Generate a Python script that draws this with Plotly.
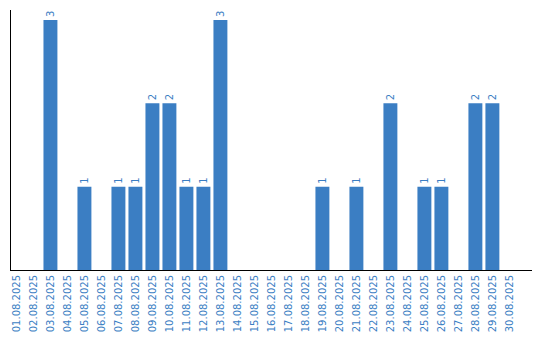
import plotly.graph_objects as go

days = [f"{d:02d}.08.2025" for d in range(1, 31)]
counts = [0, 0, 3, 0, 1, 0, 1, 1, 2, 2, 1, 1, 3, 0, 0, 0, 0, 0, 1, 0,
          1, 0, 2, 0, 1, 1, 0, 2, 2, 0]

blue = "#3b7ec3"
labels = [str(v) if v else "" for v in counts]

fig = go.Figure(go.Bar(
    x=days, y=counts, text=labels, textposition="outside", textangle=-90,
    textfont=dict(family="DejaVu Sans", size=10, color=blue),
    marker=dict(color=blue, line=dict(width=0)), cliponaxis=False,
))
fig.update_layout(
    width=540, height=340, margin=dict(l=11, r=8, t=10, b=70),
    paper_bgcolor="white", plot_bgcolor="white", bargap=0.18, showlegend=False,
    xaxis=dict(type="category", range=[-0.32, 30.33], tickangle=-90,
               tickfont=dict(family="DejaVu Sans", size=10, color=blue),
               showline=True, linecolor="black", linewidth=1, showgrid=False,
               ticks="", zeroline=False),
    yaxis=dict(range=[0, 3.12], showticklabels=False, showgrid=False,
               showline=True, linecolor="black", linewidth=1, zeroline=False, ticks=""),
)
fig.write_html("out.html")
